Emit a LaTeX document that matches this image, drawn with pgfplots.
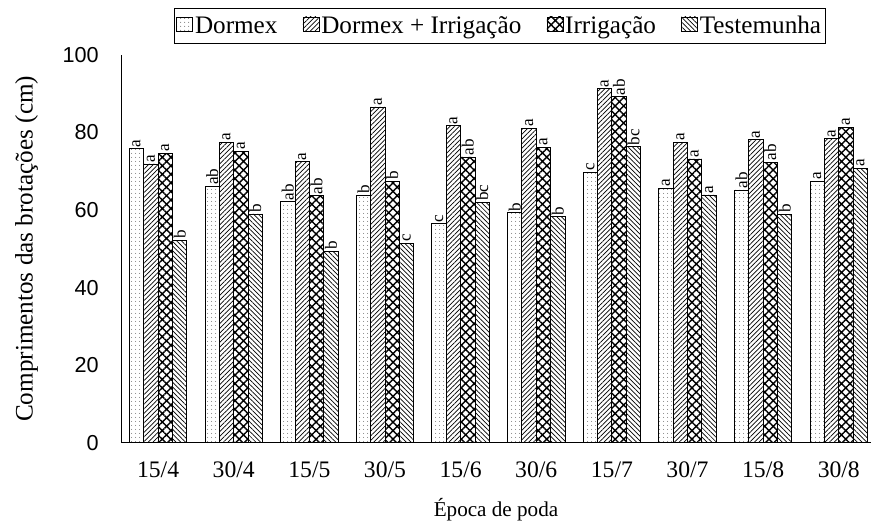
\documentclass[border=0pt]{standalone}
\usepackage{pgfplots}
\pgfplotsset{compat=1.18}
\usepackage{pgfplotstable}
\usetikzlibrary{patterns,patterns.meta}
\usepackage{fontspec}
\setmainfont{Liberation Serif}
\newfontfamily\arial{Liberation Sans}

\pgfplotstableread{
x y l
0 75.8 a
1 66.2 ab
2 62.2 ab
3 63.9 b
4 56.5 c
5 59.3 b
6 69.8 c
7 65.6 a
8 65.2 ab
9 67.4 a
}\dormex
\pgfplotstableread{
x y l
0 71.9 a
1 77.5 a
2 72.5 a
3 86.6 a
4 81.8 a
5 81.1 a
6 91.3 a
7 77.5 a
8 78.2 a
9 78.4 a
}\dormirr
\pgfplotstableread{
x y l
0 74.7 a
1 75.2 a
2 63.7 ab
3 67.4 b
4 73.7 ab
5 76.2 a
6 89.2 ab
7 73.2 a
8 72.4 ab
9 81.4 a
}\irr
\pgfplotstableread{
x y l
0 52.2 b
1 59.0 b
2 49.4 b
3 51.5 c
4 62.0 bc
5 58.3 b
6 76.3 bc
7 63.9 a
8 58.9 b
9 70.8 a
}\test

\begin{document}
\begin{tikzpicture}
\begin{axis}[
  scale only axis,
  width=744pt, height=385pt,
  ybar=0pt,
  bar width=0.19,
  ymin=0, ymax=100,
  xmin=-0.485, xmax=9.42,
  ytick={0,20,40,60,80,100},
  xtick={0,1,2,3,4,5,6,7,8,9},
  xticklabels={15/4,30/4,15/5,30/5,15/6,30/6,15/7,30/7,15/8,30/8},
  axis x line*=bottom,
  axis y line*=left,
  axis line style={-, line width=0.9pt},
  major tick style={draw=none},
  /pgf/number format/assume math mode=true,
  yticklabel style={font=\fontsize{21.5}{25}\selectfont\arial, xshift=-19pt},
  xticklabel style={font=\fontsize{23.5}{27}\selectfont, yshift=-11pt},
  ylabel={Comprimentos das brotações (cm)},
  xlabel={Época de poda},
  ylabel style={font=\fontsize{25}{29}\selectfont, inner ysep=15pt},
  ylabel shift=6pt,
  xlabel style={font=\fontsize{21}{25}\selectfont},
  xlabel shift=14pt,
  legend columns=4,
  legend style={at={(0.505,1)}, anchor=south, yshift=11pt, draw=black, line width=0.8pt,
    font=\fontsize{25}{29}\selectfont, inner xsep=2pt, inner ysep=6pt,
    /tikz/every even column/.style={column sep=23pt}},
  legend image code/.code={\draw[#1, line width=0.5pt] (0pt,-5pt) rectangle (16pt,9pt);},
  nodes near coords={\pgfplotspointmeta},
  point meta=explicit symbolic,
  every node near coord/.append style={rotate=90, anchor=west, inner sep=1pt, font=\fontsize{17}{20}\selectfont},
  clip=false,
]
\addplot[draw=black, line width=0.8pt, pattern={Dots[radius=0.55pt, distance=4pt]}, pattern color=black!75, bar shift=-0.285] table[x=x, y=y, meta=l] {\dormex};
\addplot[draw=black, line width=0.8pt, pattern={Lines[angle=45, distance=3.3pt, line width=0.7pt]}, bar shift=-0.095] table[x=x, y=y, meta=l] {\dormirr};
\addplot[draw=black, line width=0.8pt, pattern={Hatch[angle=45, distance=6pt, line width=1.4pt]}, bar shift=0.095] table[x=x, y=y, meta=l] {\irr};
\addplot[draw=black, line width=0.8pt, pattern={Lines[angle=-45, distance=3.3pt, line width=0.7pt]}, bar shift=0.285] table[x=x, y=y, meta=l] {\test};
\legend{Dormex, Dormex + Irrigação, Irrigação, Testemunha}
\end{axis}
\path (current bounding box.north) ++(0,8pt);
\end{tikzpicture}
\end{document}
